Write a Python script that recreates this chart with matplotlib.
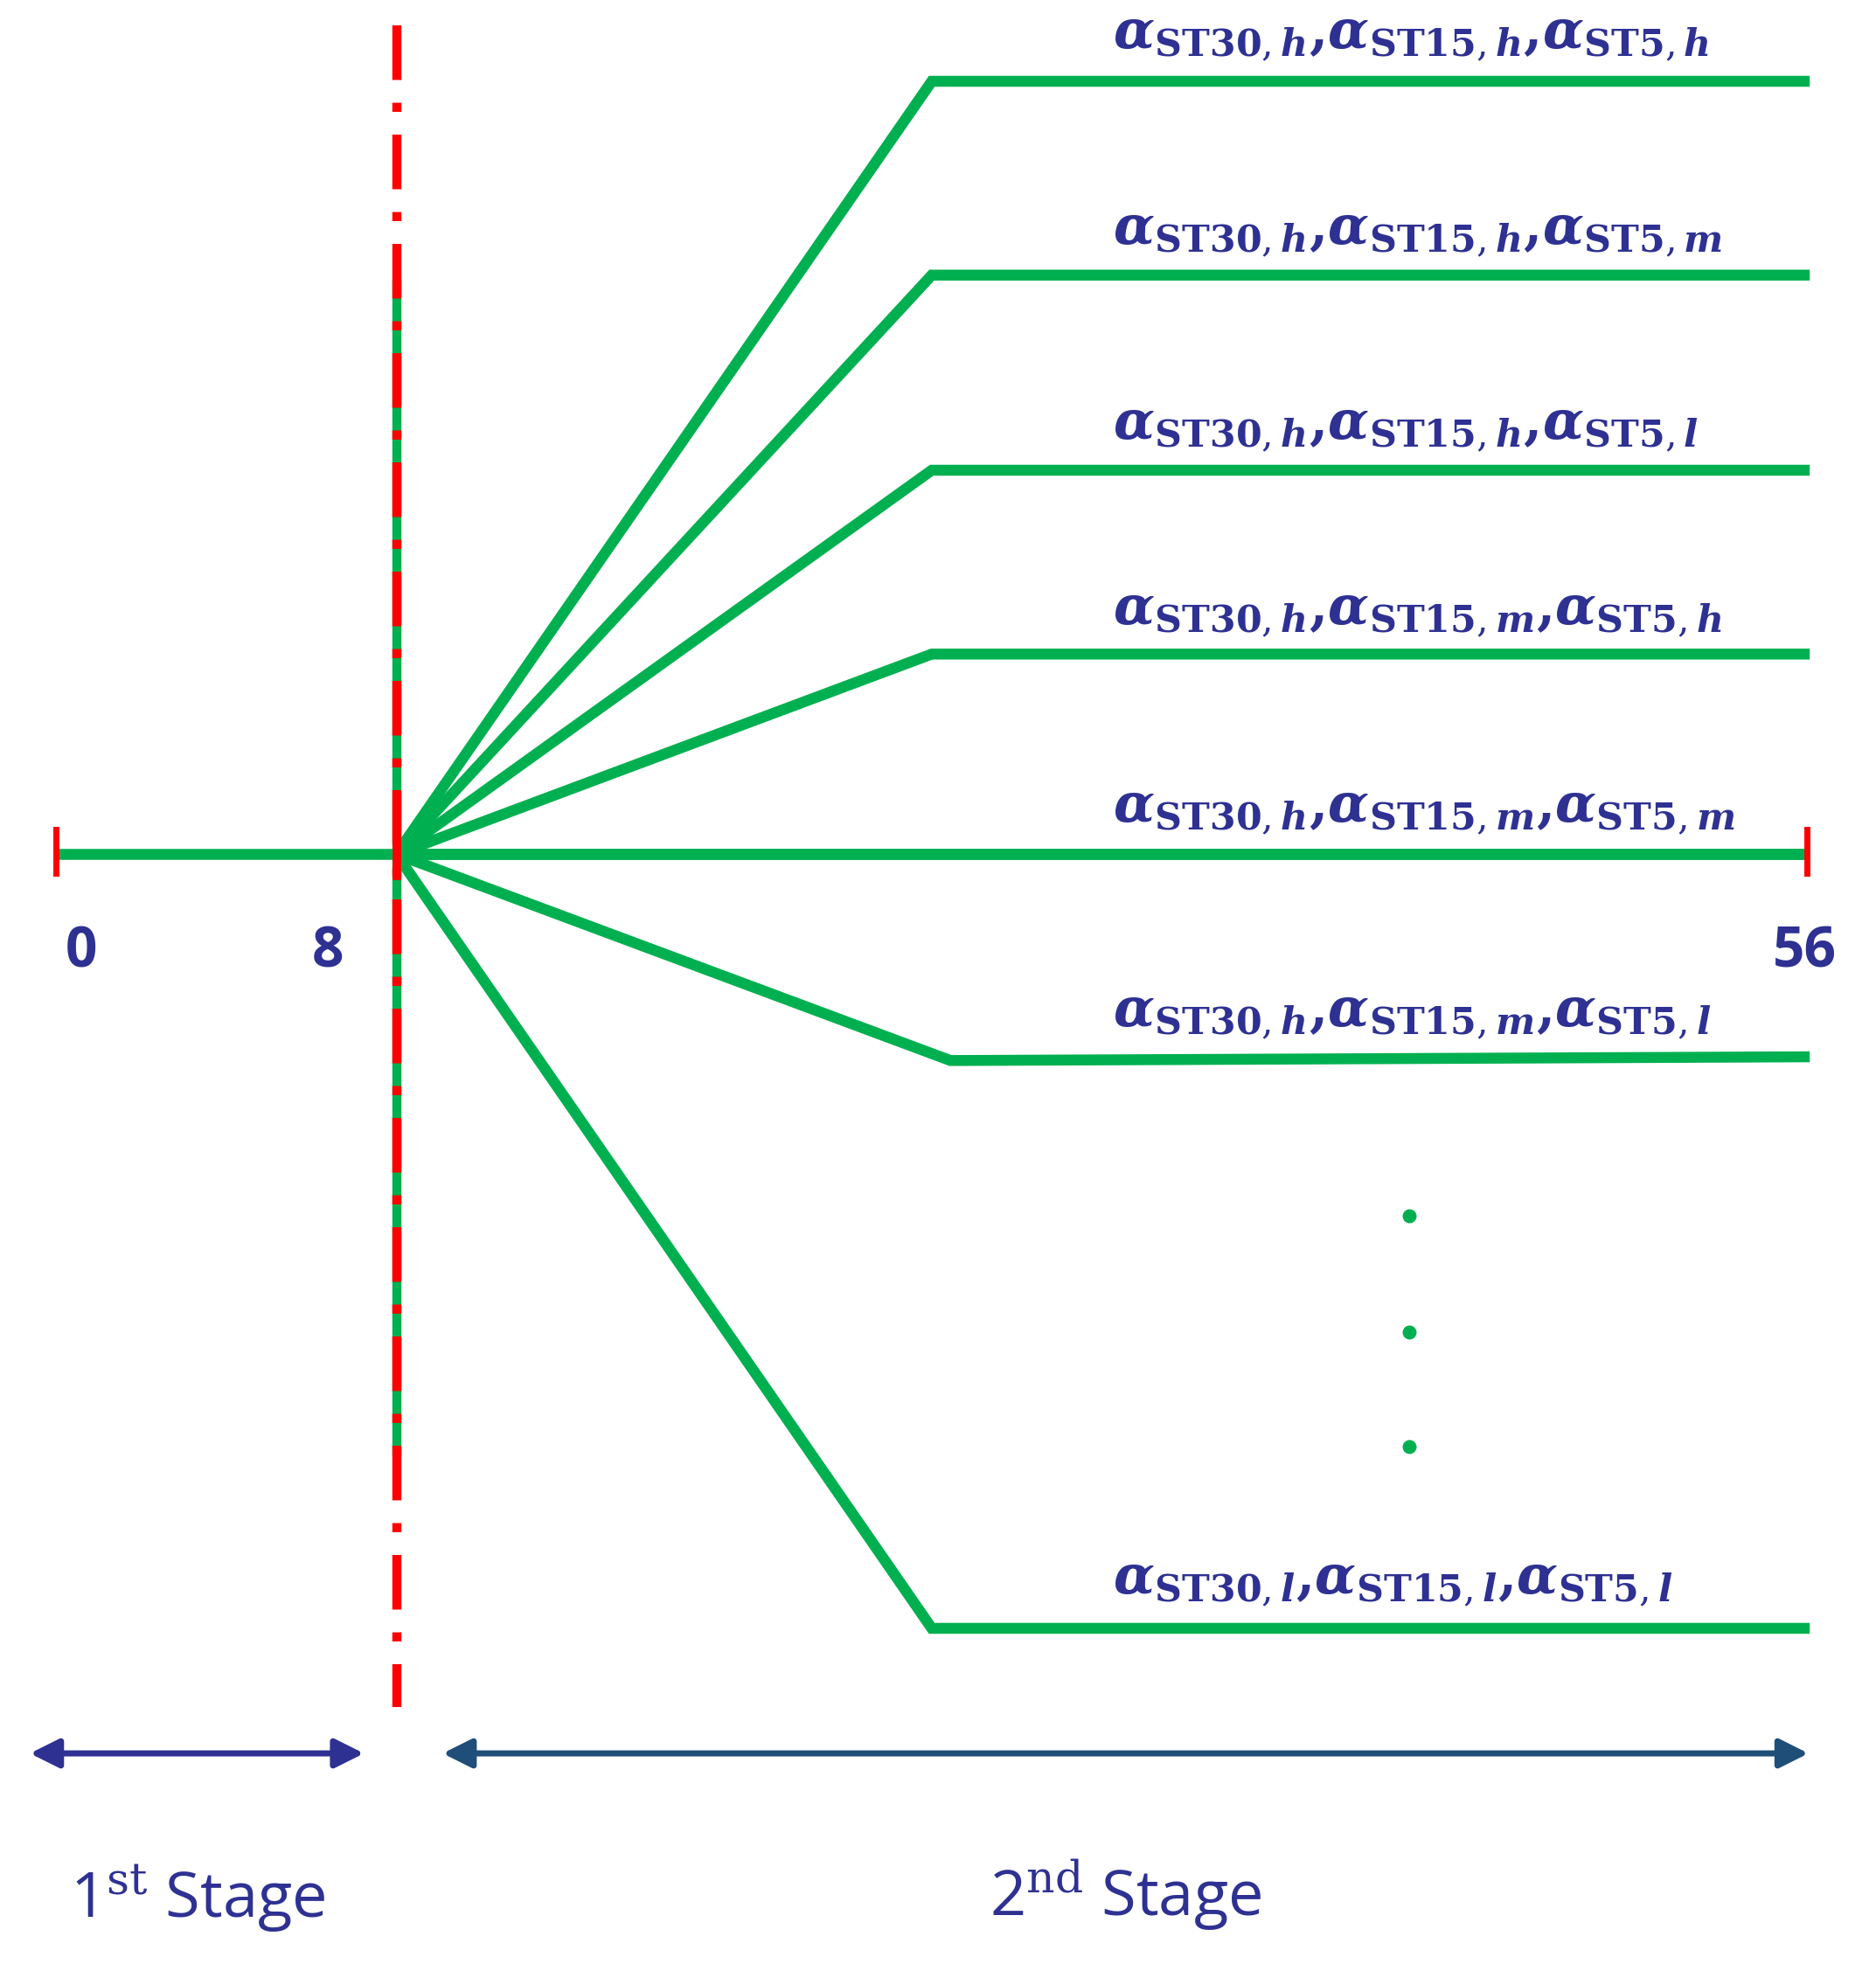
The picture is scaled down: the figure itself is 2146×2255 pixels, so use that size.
import matplotlib.pyplot as plt
import matplotlib as mpl

mpl.rcParams['mathtext.fontset'] = 'dejavuserif'

GREEN = "#00B050"
RED = "#FF0000"
NAVY = "#2E3192"
ARROW2 = "#1F4E79"

# layout units: reference picture scaled to 1500 wide
split_x = 317
branch_x = [745, 745, 745, 745, 317, 760, 745]
branch_y = [65, 220, 376, 523, 683, 848, 1302]
end_y = [65, 220, 376, 523, 683, 845, 1302]
subs = [("h", "h", "h"), ("h", "h", "m"), ("h", "h", "l"), ("h", "m", "h"),
        ("h", "m", "m"), ("h", "m", "l"), ("l", "l", "l")]
label_y = [30, 186, 342, 490, 648, 812, 1265]
dots_y = [972, 1065, 1157]
tick_labels = ["0", "8", "56"]
tick_x = [65, 262, 1443]


def make_label(a, b, c):
    return (r"$\boldsymbol{\alpha}_{\mathbf{ST30},\mathbfit{%s}}\mathbf{,}"
            r"\boldsymbol{\alpha}_{\mathbf{ST15},\mathbfit{%s}}\mathbf{,}"
            r"\boldsymbol{\alpha}_{\mathbf{ST5},\mathbfit{%s}}$" % (a, b, c))


fig = plt.figure(figsize=(21.46, 22.55), dpi=100)
ax = fig.add_axes([0, 0, 1, 1])
ax.set_xlim(0, 1500)
ax.set_ylim(1576, 0)
ax.axis("off")

LW = 9

# time axis
ax.plot([45, 1445], [683, 683], color=GREEN, lw=LW, solid_capstyle="butt", zorder=3)
for x in (45, 1445):
    ax.plot([x, x], [663, 698], color=RED, lw=5, zorder=4)
ax.plot([split_x, split_x], [660, 700], color=RED, lw=7, zorder=4)

# vertical split line
ax.plot([split_x, split_x], [228, 1160], color=GREEN, lw=7.5, zorder=1)
ax.plot([split_x, split_x], [20, 1365], color=RED, lw=7.5, zorder=2,
        linestyle=(0, (6, 2.5, 1, 2.5)))

# branches
for bx, by, ey in zip(branch_x, branch_y, end_y):
    ax.plot([split_x, bx, 1447], [683, by, ey], color=GREEN, lw=LW,
            solid_joinstyle="miter", solid_capstyle="butt", zorder=3)

for ly, s in zip(label_y, subs):
    ax.text(890, ly, make_label(*s), color=NAVY, fontsize=44, va="center", ha="left")

ax.scatter([1127] * len(dots_y), dots_y, s=110, color=GREEN, zorder=3)

for tx, tl in zip(tick_x, tick_labels):
    ax.text(tx, 762, tl, color=NAVY, fontsize=46, fontweight="bold",
            ha="center", va="center", family="Open Sans")

# stage arrows
ax.annotate("", xy=(22, 1402), xytext=(293, 1402),
            arrowprops=dict(arrowstyle="<|-|>", color=NAVY, lw=5, mutation_scale=50))
ax.annotate("", xy=(352, 1402), xytext=(1448, 1402),
            arrowprops=dict(arrowstyle="<|-|>", color=ARROW2, lw=5, mutation_scale=50))

ax.text(158, 1518, r"1$^{\mathrm{st}}$ Stage", color=NAVY, fontsize=52,
        ha="center", va="center", family="Open Sans")
ax.text(900, 1515, r"2$^{\mathrm{nd}}$ Stage", color=NAVY, fontsize=52,
        ha="center", va="center", family="Open Sans")

fig.savefig("out.png", dpi=100)
